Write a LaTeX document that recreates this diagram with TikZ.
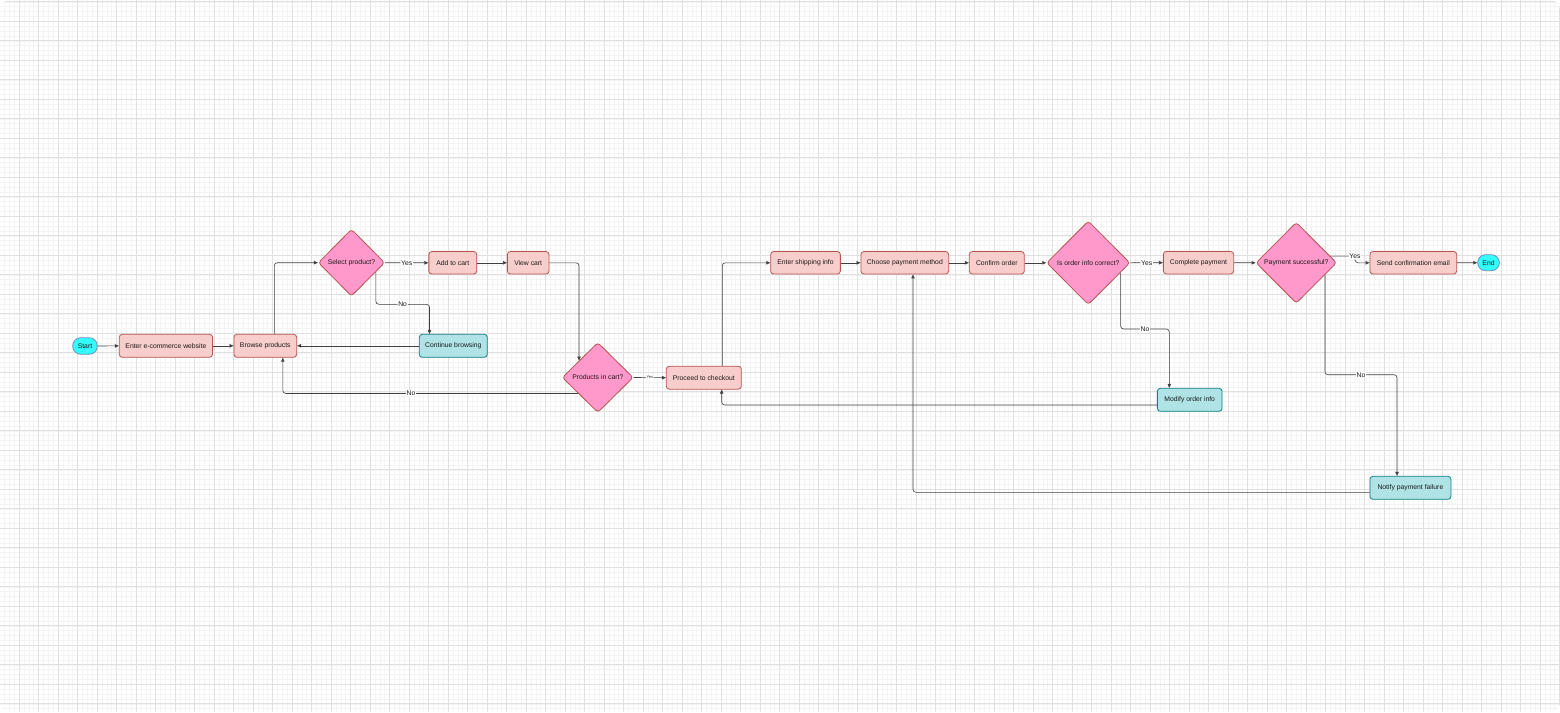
\documentclass[tikz,border=0pt]{standalone}
\usepackage{fontspec}
\setmainfont{Liberation Sans}
\usetikzlibrary{shapes.geometric,arrows.meta,calc}
\definecolor{pinkfill}{HTML}{F8CECC}
\definecolor{pinkdraw}{HTML}{B85450}
\definecolor{diafill}{HTML}{FF99CC}
\definecolor{tealfill}{HTML}{B0E3E6}
\definecolor{tealdraw}{HTML}{0E8088}
\definecolor{cyanfill}{HTML}{33FFFF}
\definecolor{cyandraw}{HTML}{6C8EBF}
\definecolor{gridminor}{HTML}{F4F4F4}
\definecolor{gridmajor}{HTML}{E0E0E0}
\definecolor{linec}{HTML}{404040}
\begin{document}
\begin{tikzpicture}[x=1pt,y=-1pt,
  txt/.style={font=\fontsize{6.8}{8}\selectfont, text=black!90},
  pbox/.style={txt, rectangle, rounded corners=3pt, draw=pinkdraw, fill=pinkfill, line width=0.8pt, minimum height=23pt, inner sep=0pt},
  tbox/.style={pbox, draw=tealdraw, fill=tealfill},
  term/.style={txt, rectangle, rounded corners=8pt, draw=cyandraw, fill=cyanfill, line width=0.8pt, minimum height=16.5pt, inner sep=0pt},
  dec/.style={txt, diamond, rounded corners=3pt, draw=pinkdraw, fill=diafill, line width=0.8pt, inner sep=0pt},
  arr/.style={draw=linec, line width=0.6pt, rounded corners=3pt, -{Triangle[length=4pt,width=3.4pt]}},
  lbl/.style={font=\fontsize{6.8}{8}\selectfont, fill=white, inner sep=0.8pt, text=black!90},
  tinylbl/.style={font=\fontsize{4}{5}\selectfont, fill=white, inner sep=0.6pt, text=black!80},
]
\useasboundingbox (0,0) rectangle (1560,712);
% background grid
\begin{scope}
\clip[rounded corners=10pt] (0,0) rectangle (1560,712);
\fill[white] (0,0) rectangle (1560,712);
\foreach \i in {0,...,320} \draw[gridminor, line width=0.4pt] ({-0.5+4.875*\i},0) -- ++(0,712);
\foreach \j in {0,...,146} \draw[gridminor, line width=0.4pt] (0,{1.7+4.875*\j}) -- ++(1560,0);
\foreach \i in {0,...,80} \draw[gridmajor, line width=0.6pt] ({-0.5+19.5*\i},0) -- ++(0,712);
\foreach \j in {0,...,36} \draw[gridmajor, line width=0.6pt] (0,{1.7+19.5*\j}) -- ++(1560,0);
\end{scope}

% nodes
\node[term, minimum width=24.5pt] (start) at (85,346) {Start};
\node[pbox, minimum width=93.3pt] (enter) at (165.9,345.8) {Enter e-commerce website};
\node[pbox, minimum width=62.7pt] (browse) at (265.3,345.8) {Browse products};
\node[dec, minimum width=66.4pt, minimum height=67pt] (sel) at (351.5,262.7) {Select product?};
\node[pbox, minimum width=47.9pt, minimum height=22.5pt] (add) at (452.8,262.8) {Add to cart};
\node[pbox, minimum width=41.7pt, minimum height=22.5pt] (view) at (528.2,262.8) {View cart};
\node[tbox, minimum width=68pt] (cont) at (453.3,345.8) {Continue browsing};
\node[dec, minimum width=71pt, minimum height=70pt] (pic) at (597.8,377.5) {Products in cart?};
\node[pbox, minimum width=75pt] (proc) at (703.8,377.7) {Proceed to checkout};
\node[pbox, minimum width=69.7pt, minimum height=22.5pt] (ship) at (805.5,262.8) {Enter shipping info};
\node[pbox, minimum width=87.7pt, minimum height=22.5pt] (pay) at (904.8,262.8) {Choose payment method};
\node[pbox, minimum width=55pt, minimum height=22.5pt] (conf) at (996.8,262.8) {Confirm order};
\node[dec, minimum width=83.3pt, minimum height=83.7pt] (oic) at (1088.3,262.8) {Is order info correct?};
\node[pbox, minimum width=70.3pt, minimum height=22.5pt] (comp) at (1198.5,262.7) {Complete payment};
\node[dec, minimum width=80.7pt, minimum height=81pt] (ps) at (1296.3,262.8) {Payment successful?};
\node[pbox, minimum width=86.7pt, minimum height=22.5pt] (send) at (1413.3,262.8) {Send confirmation email};
\node[term, minimum width=21.7pt, minimum height=16pt] (end) at (1488.5,262.7) {End};
\node[tbox, minimum width=64.7pt] (mod) at (1189.7,399.8) {Modify order info};
\node[tbox, minimum width=81pt] (notify) at (1410.4,487.8) {Notify payment failure};

% waypoints
\coordinate (b1) at (274.3,0);
\coordinate (w1) at (429.5,304.3);
\coordinate (b2) at (282.8,0);
\coordinate (p1) at (722.3,0);
\coordinate (w2) at (1169.3,329);
\coordinate (c18) at (1355,256.2);
\coordinate (w3) at (1397,374.7);
\coordinate (m1) at (0,405);
\coordinate (p2) at (721.7,0);
\coordinate (n1) at (0,492.3);
\coordinate (q1) at (913,0);

% connectors
\draw[arr] (start) -- (enter);
\draw[arr] (enter) -- (browse);
\draw[arr] (b1 |- browse.north) |- (sel.west);
\draw[arr] (sel.east) -- node[lbl]{Yes} (add.west);
\draw[arr] (sel.-21.5) |- (w1) node[lbl, pos=0.75]{No} -- (w1 |- cont.north);
\draw[arr] (add) -- (view);
\draw[arr] (view.east) -| (pic.138.7);
\draw[arr] (cont.west) -- (browse.east);
\draw[arr] (pic.219) -| node[lbl, pos=0.283]{No} (b2 |- browse.south);
\draw[arr] (pic.east) -- node[tinylbl]{Yes} (proc.west);
\draw[arr] (p1 |- proc.north) |- (ship.west);
\draw[arr] (ship) -- (pay);
\draw[arr] (pay) -- (conf);
\draw[arr] (conf.east) -- (oic.west);
\draw[arr] (oic.east) -- node[lbl]{Yes} (comp.west);
\draw[arr] (oic.-17.5) |- (w2) node[lbl, pos=0.75]{No} -- (w2 |- mod.north);
\draw[arr] (comp.east) -- (ps.west);
\draw[arr] (ps.11.4) -- (c18) node[lbl]{Yes} -- (c18 |- send.west) -- (send.west);
\draw[arr] (send) -- (end);
\draw[arr] (ps.-23.9) |- (w3) node[lbl, pos=0.75]{No} -- (w3 |- notify.north);
\draw[arr] (mod.west |- m1) -| (p2 |- proc.south);
\draw[arr] (notify.west |- n1) -| (q1 |- pay.south);
\end{tikzpicture}
\end{document}
